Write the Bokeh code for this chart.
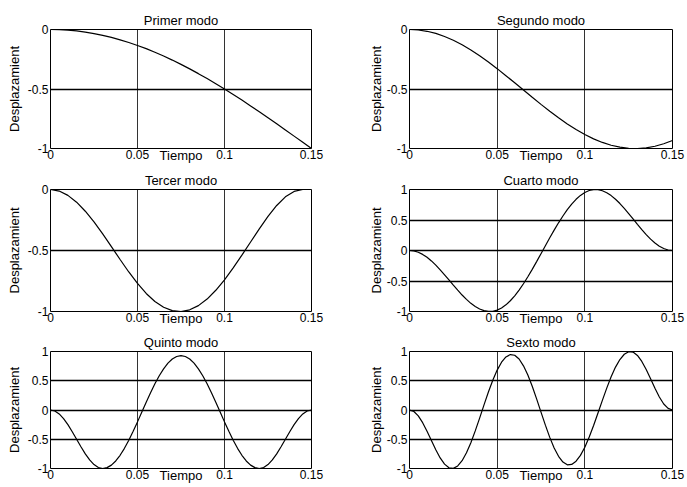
import numpy as np
from bokeh.plotting import figure
from bokeh.models import Range1d, FixedTicker
from bokeh.layouts import column, row
from bokeh.embed import file_html
from bokeh.resources import INLINE

# ---------------- data ----------------
titles = ["Primer modo", "Segundo modo", "Tercer modo",
          "Cuarto modo", "Quinto modo", "Sexto modo"]
x_label = "Tiempo"
y_label = "Desplazamient"

x_ticks = [0, 0.05, 0.1, 0.15]
x_tick_labels = ["0", "0.05", "0.1", "0.15"]
y_ticks_neg = [-1, -0.5, 0]
y_tick_labels_neg = ["-1", "-0.5", "0"]
y_ticks_full = [-1, -0.5, 0, 0.5, 1]
y_tick_labels_full = ["-1", "-0.5", "0", "0.5", "1"]

# sample times (s)
t_coarse = np.linspace(0, 0.15, 31)
t_fine = np.linspace(0, 0.15, 61)

modo1 = [0, -0.001, -0.005, -0.012, -0.022, -0.034, -0.049, -0.066, -0.087, -0.109,
         -0.134, -0.161, -0.191, -0.223, -0.257, -0.293, -0.331, -0.371, -0.412, -0.455,
         -0.5, -0.546, -0.593, -0.642, -0.691, -0.741, -0.792, -0.844, -0.896, -0.948, -1.0]

modo2 = [0, -0.004, -0.015, -0.033, -0.059, -0.090, -0.128, -0.172, -0.220, -0.273,
         -0.329, -0.388, -0.448, -0.509, -0.570, -0.629, -0.687, -0.742, -0.794, -0.841,
         -0.883, -0.919, -0.949, -0.973, -0.989, -0.998, -1.0, -0.994, -0.981, -0.960, -0.933]

modo3 = [0, -0.013, -0.048, -0.104, -0.178, -0.265, -0.364, -0.468, -0.574, -0.676,
         -0.770, -0.852, -0.918, -0.965, -0.993, -1.0, -0.986, -0.952, -0.898, -0.826,
         -0.740, -0.643, -0.538, -0.430, -0.323, -0.221, -0.131, -0.060, -0.016, 0.0, 0.0]

modo4 = [0, -0.007, -0.029, -0.064, -0.112, -0.171, -0.240, -0.317, -0.398, -0.483,
         -0.568, -0.651, -0.730, -0.802, -0.866, -0.918, -0.959, -0.986, -0.999, -0.997,
         -0.978, -0.943, -0.891, -0.824, -0.743, -0.649, -0.545, -0.431, -0.309, -0.182,
         -0.052, 0.079, 0.208, 0.334, 0.454, 0.566, 0.669, 0.760, 0.839, 0.903,
         0.951, 0.983, 0.999, 0.997, 0.980, 0.947, 0.900, 0.841, 0.770, 0.691,
         0.606, 0.518, 0.429, 0.342, 0.260, 0.186, 0.122, 0.070, 0.032, 0.008, 0]

modo5 = [0, -0.017, -0.067, -0.146, -0.25, -0.371, -0.5, -0.629, -0.75, -0.854,
         -0.933, -0.983, -1.0, -0.985, -0.942, -0.871, -0.774, -0.655, -0.518, -0.365,
         -0.203, -0.035, 0.133, 0.295, 0.448, 0.585, 0.704, 0.801, 0.872, 0.915,
         0.93, 0.915, 0.872, 0.801, 0.704, 0.585, 0.448, 0.295, 0.133, -0.035,
         -0.203, -0.365, -0.518, -0.655, -0.774, -0.871, -0.942, -0.985, -1.0, -0.983,
         -0.933, -0.854, -0.75, -0.629, -0.5, -0.371, -0.25, -0.146, -0.067, -0.017, 0]

modo6 = [0, -0.026, -0.101, -0.217, -0.363, -0.523, -0.680, -0.819, -0.925, -0.987,
         -0.998, -0.957, -0.867, -0.732, -0.559, -0.357, -0.138, 0.088, 0.307, 0.509,
         0.682, 0.817, 0.907, 0.948, 0.936, 0.871, 0.755, 0.597, 0.405, 0.190,
         -0.036, -0.259, -0.468, -0.649, -0.792, -0.890, -0.937, -0.930, -0.875, -0.776,
         -0.636, -0.463, -0.265, -0.052, 0.164, 0.374, 0.567, 0.733, 0.863, 0.953,
         0.996, 0.990, 0.933, 0.830, 0.691, 0.533, 0.371, 0.222, 0.103, 0.027, 0]

series = [(t_coarse, modo1), (t_coarse, modo2), (t_coarse, modo3),
          (t_fine, modo4), (t_fine, modo5), (t_fine, modo6)]

# ---------------- layout ----------------
FONT = "Liberation Sans"
col_specs = [  # width, borders, y-label standoff
    dict(width=345, bl=50, br=34, ylab_standoff=3),
    dict(width=342, bl=64, br=15, ylab_standoff=0),
]
row_specs = [  # height, borders
    dict(height=168, bt=29, bb=20),
    dict(height=162, bt=21, bb=19),
    dict(height=157, bt=21, bb=19),
]


def make(idx):
    r, c = divmod(idx, 2)
    cs, rs = col_specs[c], row_specs[r]
    ts, ys = series[idx]
    if idx < 3:
        yt, ytl, y0, y1 = y_ticks_neg, y_tick_labels_neg, -1, 0
    else:
        yt, ytl, y0, y1 = y_ticks_full, y_tick_labels_full, -1, 1

    p = figure(width=cs["width"], height=rs["height"], output_backend="svg",
               toolbar_location=None, x_range=Range1d(0, 0.15),
               y_range=Range1d(y0, y1),
               min_border_left=cs["bl"], min_border_right=cs["br"],
               min_border_top=rs["bt"], min_border_bottom=rs["bb"])
    p.background_fill_color = "white"
    p.border_fill_color = "white"
    p.outline_line_color = "black"
    p.outline_line_width = 1

    p.title.text = titles[idx]
    p.title.align = "center"
    p.title.text_font = FONT
    p.title.text_font_size = "13px"
    p.title.text_font_style = "normal"
    p.title.text_color = "black"
    p.title.standoff = 3

    p.xaxis.ticker = FixedTicker(ticks=x_ticks)
    p.xaxis.major_label_overrides = {t: s for t, s in zip(x_ticks, x_tick_labels)}
    p.yaxis.ticker = FixedTicker(ticks=yt)
    p.yaxis.major_label_overrides = {t: s for t, s in zip(yt, ytl)}
    for ax in (p.xaxis, p.yaxis):
        ax.axis_line_color = None
        ax.major_tick_line_color = None
        ax.minor_tick_line_color = None
        ax.major_tick_out = 0
        ax.major_tick_in = 0
        ax.major_label_text_font = FONT
        ax.major_label_text_font_size = "12px"
        ax.major_label_text_color = "black"
        ax.axis_label_text_font = FONT
        ax.axis_label_text_font_size = "13px"
        ax.axis_label_text_font_style = "normal"
        ax.axis_label_text_color = "black"
    p.xaxis.major_label_standoff = 1
    p.yaxis.major_label_standoff = 2

    p.xaxis.axis_label = x_label
    p.xaxis.axis_label_standoff = -14
    p.yaxis.axis_label = y_label
    p.yaxis.axis_label_standoff = cs["ylab_standoff"]

    p.xgrid.grid_line_color = "black"
    p.xgrid.grid_line_width = 1
    p.xgrid.grid_line_alpha = 0.8
    p.ygrid.grid_line_color = "black"
    p.ygrid.grid_line_width = 1.7

    p.line(ts, ys, line_color="black", line_width=1.2)
    return p


figs = [make(i) for i in range(6)]
layout = column(row(figs[0], figs[1]), row(figs[2], figs[3]), row(figs[4], figs[5]))

open("out.html", "w").write(file_html(layout, INLINE))
